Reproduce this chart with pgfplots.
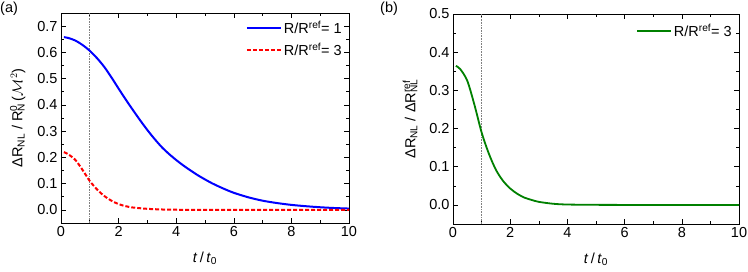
\documentclass[border=0pt]{standalone}
\usepackage{pgfplots}
\pgfplotsset{compat=1.18}
\usepackage{fontspec}
\setmainfont{Liberation Sans}
\definecolor{myblue}{RGB}{0,0,255}
\definecolor{myred}{RGB}{255,0,0}
\definecolor{mygreen}{RGB}{0,128,0}
\newcommand{\myfont}{\fontsize{14.5}{17}\selectfont}
\begin{document}
\begin{tikzpicture}[font=\myfont]
\useasboundingbox (0pt,0pt) rectangle (748pt,271pt);
\pgfplotsset{
  every axis/.style={
    scale only axis,
    font=\myfont,
    tick label style={font=\myfont},
    label style={font=\myfont},
    axis line style={line width=0.8pt},
    tick style={line width=0.6pt, black},
    major tick length=5pt,
    minor tick length=3pt,
    tick align=inside,
    xtick pos=both, ytick pos=both,
    minor x tick num=1, minor y tick num=1,
    xmin=0, xmax=10,
    xtick={0,2,4,6,8,10},
    /pgf/number format/assume math mode=true,
    yticklabel style={/pgf/number format/.cd, fixed, fixed zerofill, precision=1},
    xlabel={\textit{t}\,/\,\textit{t}\textsubscript{0}},
    xlabel style={at={(axis description cs:0.5,-0.186)}, anchor=base},
    ylabel style={at={(axis description cs:-0.15,0.5)}, anchor=center},
    legend style={draw=none, fill=none, font=\myfont, row sep=4pt},
    legend cell align=left,
  }
}
\begin{axis}[
  at={(61pt,48pt)}, anchor=south west,
  width=288pt, height=210pt,
  ymin=-0.05, ymax=0.75,
  ytick={0,0.1,0.2,0.3,0.4,0.5,0.6,0.7},
  ylabel={ΔR\textsubscript{NL} / R\rlap{\textsuperscript{0}}\textsubscript{N}\,($\mathcal{M}^2$)},
  legend style={at={(axis cs:10,0.75)}, anchor=north east, xshift=-2pt, yshift=-4pt},
  legend image code/.code={\draw[#1] (0pt,0pt) -- (34pt,0pt);},
]
\addplot[gray, densely dotted, line width=0.6pt, forget plot] coordinates {(1,-0.05) (1,0.75)};
\addplot[myblue, line width=2pt, smooth] coordinates {
(0.1,0.658) (0.25,0.655) (0.5,0.645) (0.75,0.628) (1,0.606) (1.25,0.578) (1.5,0.545) (1.75,0.505)
(2,0.462) (2.25,0.420) (2.5,0.380) (2.75,0.341) (3,0.304) (3.25,0.270) (3.5,0.239) (3.75,0.213)
(4,0.190) (4.25,0.169) (4.5,0.150) (4.75,0.132) (5,0.116) (5.25,0.101) (5.5,0.088) (5.75,0.076)
(6,0.065) (6.5,0.048) (7,0.035) (7.5,0.026)
(8,0.019) (8.5,0.014) (9,0.010) (9.5,0.007) (10,0.005)};
\addlegendentry{R/R\textsuperscript{ref}= 1}
\addplot[myred, line width=2pt, dash pattern=on 4pt off 2pt, smooth] coordinates {
(0.1,0.220) (0.25,0.212) (0.5,0.190) (0.75,0.152) (1,0.110) (1.25,0.078) (1.5,0.053) (1.75,0.035)
(2,0.022) (2.25,0.014) (2.5,0.009) (3,0.004) (3.5,0.0015) (4,0.0005) (5,0.0001) (6,0) (7,0) (8,0) (9,0) (10,0)};
\addlegendentry{R/R\textsuperscript{ref}= 3}
\end{axis}
\begin{axis}[
  at={(453pt,47pt)}, anchor=south west,
  width=286pt, height=210pt,
  ymin=-0.05, ymax=0.5,
  ytick={0,0.1,0.2,0.3,0.4,0.5},
  ylabel={ΔR\textsubscript{NL} / ΔR\rlap{\textsuperscript{ref}}\textsubscript{NL}},
  legend style={at={(axis cs:10,0.5)}, anchor=north east, xshift=-2pt, yshift=-6pt},
  legend image code/.code={\draw[#1] (0pt,0pt) -- (34pt,0pt);},
]
\addplot[gray, densely dotted, line width=0.6pt, forget plot] coordinates {(1,-0.05) (1,0.5)};
\addplot[mygreen, line width=1.8pt, smooth] coordinates {
(0.1,0.364) (0.25,0.356) (0.5,0.325) (0.75,0.262) (1,0.190) (1.25,0.135) (1.5,0.092) (1.75,0.063)
(2,0.043) (2.25,0.029) (2.5,0.019) (2.75,0.013) (3,0.008) (3.5,0.003) (4,0.001) (5,0.0002) (6,0) (7,0) (8,0) (9,0) (10,0)};
\addlegendentry{R/R\textsuperscript{ref}= 3}
\end{axis}
\node[anchor=north west, inner sep=0pt] at (0pt,269pt) {(a)};
\node[anchor=north west, inner sep=0pt] at (380pt,269pt) {(b)};
\end{tikzpicture}
\end{document}
